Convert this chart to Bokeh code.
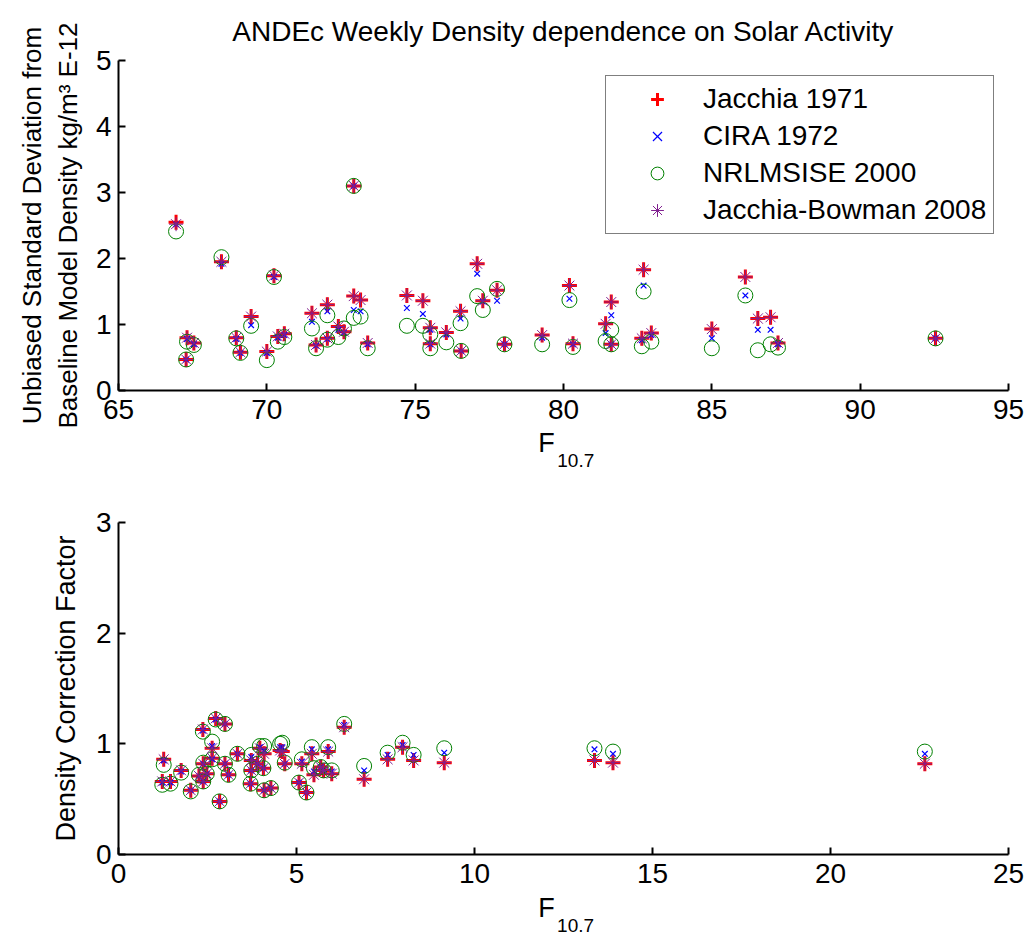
from bokeh.plotting import figure
from bokeh.layouts import column
from bokeh.models import Range1d, FixedTicker, Legend, LegendItem
from bokeh.core.properties import value
from bokeh.embed import file_html
from bokeh.resources import INLINE

FONT = "Liberation Sans"

# ---------------- top panel data (F10.7 vs std dev) ----------------
top_f107 = [66.94, 67.31, 67.28, 67.54, 68.47, 68.97, 69.11, 69.47, 70.00, 70.24,
            70.37, 70.59, 71.52, 71.66, 72.04, 72.04, 72.41, 72.60, 72.93, 72.93,
            73.16, 73.40, 74.72, 75.26, 75.51, 75.51, 76.05, 76.53, 76.55, 77.09,
            77.28, 77.76, 78.01, 79.28, 80.20, 80.32, 81.42, 81.61, 81.61, 82.70,
            82.64, 82.96, 85.00, 86.13, 86.55, 86.98, 87.23, 92.54]
top_j71 = [2.55, 0.80, 0.47, 0.72, 1.95, 0.80, 0.58, 1.12, 0.59, 1.74,
           0.82, 0.86, 1.17, 0.69, 1.30, 0.79, 0.97, 0.89, 3.10, 1.43,
           1.37, 0.72, 1.44, 1.36, 0.95, 0.71, 0.88, 1.20, 0.60, 1.92,
           1.36, 1.52, 0.70, 0.84, 1.59, 0.71, 1.01, 1.34, 0.70, 1.83,
           0.79, 0.87, 0.93, 1.72, 1.09, 1.11, 0.72, 0.79]
top_cira = [2.52, 0.78, 0.47, 0.70, 1.92, 0.78, 0.57, 0.99, 0.57, 1.72,
            0.80, 0.84, 1.04, 0.68, 1.20, 0.78, 0.92, 0.88, 3.10, 1.22,
            1.20, 0.70, 1.25, 1.16, 0.92, 0.70, 0.85, 1.09, 0.60, 1.77,
            1.35, 1.36, 0.70, 0.80, 1.39, 0.70, 0.87, 1.14, 0.70, 1.59,
            0.76, 0.84, 0.79, 1.44, 0.92, 0.92, 0.70, 0.79]
top_nrl = [2.41, 0.74, 0.47, 0.69, 2.02, 0.79, 0.57, 0.98, 0.46, 1.72,
           0.74, 0.81, 0.94, 0.64, 1.14, 0.77, 0.81, 0.94, 3.10, 1.10,
           1.12, 0.64, 0.98, 0.98, 0.85, 0.64, 0.73, 1.02, 0.60, 1.43,
           1.22, 1.54, 0.70, 0.70, 1.37, 0.66, 0.75, 0.92, 0.70, 1.50,
           0.67, 0.74, 0.64, 1.44, 0.61, 0.70, 0.65, 0.79]
top_jb08 = [2.52, 0.80, 0.47, 0.72, 1.95, 0.80, 0.58, 1.12, 0.59, 1.74,
            0.82, 0.86, 1.17, 0.69, 1.30, 0.79, 0.97, 0.89, 3.10, 1.43,
            1.37, 0.72, 1.44, 1.36, 0.95, 0.71, 0.88, 1.20, 0.60, 1.92,
            1.36, 1.52, 0.70, 0.84, 1.59, 0.71, 1.01, 1.34, 0.70, 1.83,
            0.79, 0.87, 0.93, 1.72, 1.09, 1.11, 0.72, 0.79]

# ---------------- bottom panel data (density correction factor) ----------------
bot_f107 = [1.27, 1.23, 1.46, 1.76, 2.03, 2.37, 2.73, 2.99, 2.63, 2.63,
            2.38, 2.26, 2.48, 2.38, 2.99, 3.09, 3.34, 2.84, 3.97, 4.09,
            4.54, 4.60, 3.73, 3.90, 3.73, 4.07, 3.71, 4.09, 4.28, 4.67,
            5.15, 5.43, 5.89, 5.49, 5.68, 5.76, 5.99, 5.07, 5.28, 6.34,
            6.90, 7.56, 7.98, 8.29, 9.15, 13.37, 13.89, 22.65]
bot_j71 = [0.86, 0.66, 0.66, 0.76, 0.58, 1.13, 1.23, 1.18, 0.96, 0.87,
           0.82, 0.71, 0.73, 0.66, 0.82, 0.72, 0.91, 0.48, 0.96, 0.91,
           0.94, 0.93, 0.85, 0.82, 0.76, 0.78, 0.64, 0.58, 0.60, 0.82,
           0.82, 0.91, 0.93, 0.72, 0.79, 0.76, 0.73, 0.65, 0.56, 1.15,
           0.68, 0.86, 0.97, 0.85, 0.83, 0.85, 0.83, 0.82]
bot_cira = [0.85, 0.65, 0.65, 0.75, 0.58, 1.12, 1.22, 1.18, 0.98, 0.86,
            0.82, 0.71, 0.73, 0.66, 0.82, 0.72, 0.91, 0.48, 0.97, 0.94,
            0.97, 0.97, 0.88, 0.82, 0.76, 0.78, 0.64, 0.58, 0.60, 0.82,
            0.84, 0.95, 0.95, 0.75, 0.79, 0.76, 0.75, 0.65, 0.56, 1.17,
            0.76, 0.90, 0.99, 0.90, 0.92, 0.95, 0.91, 0.91]
bot_nrl = [0.81, 0.63, 0.64, 0.74, 0.57, 1.11, 1.22, 1.18, 1.02, 0.86,
           0.83, 0.72, 0.73, 0.66, 0.82, 0.72, 0.91, 0.48, 0.98, 0.98,
           1.00, 1.01, 0.90, 0.82, 0.76, 0.78, 0.64, 0.58, 0.60, 0.83,
           0.86, 0.97, 0.97, 0.78, 0.79, 0.76, 0.76, 0.65, 0.56, 1.18,
           0.80, 0.92, 1.01, 0.90, 0.96, 0.96, 0.93, 0.93]
bot_jb08 = [0.86, 0.66, 0.66, 0.76, 0.58, 1.13, 1.23, 1.18, 0.96, 0.87,
            0.82, 0.71, 0.73, 0.66, 0.82, 0.72, 0.91, 0.48, 0.96, 0.91,
            0.94, 0.93, 0.85, 0.82, 0.76, 0.78, 0.64, 0.58, 0.60, 0.82,
            0.82, 0.91, 0.93, 0.72, 0.79, 0.76, 0.73, 0.65, 0.56, 1.15,
            0.68, 0.86, 0.97, 0.85, 0.83, 0.85, 0.83, 0.82]

series_names = ["Jacchia 1971", "CIRA 1972", "NRLMSISE 2000", "Jacchia-Bowman 2008"]
top_xticks = [65, 70, 75, 80, 85, 90, 95]
top_yticks = [0, 1, 2, 3, 4, 5]
bot_xticks = [0, 5, 10, 15, 20, 25]
bot_yticks = [0, 1, 2, 3]

RED, BLUE, GREEN, PURPLE = "#FF0000", "#0000FF", "#008000", "#80208F"
LEFT, RIGHT, FW = 118, 16, 890


def style_axes(p, xt, yt):
    p.xaxis.ticker = FixedTicker(ticks=xt)
    p.yaxis.ticker = FixedTicker(ticks=yt)
    for ax in (p.xaxis[0], p.yaxis[0]):
        ax.axis_line_width = 2
        ax.axis_line_color = "black"
        ax.major_tick_line_width = 2
        ax.major_tick_line_color = "black"
        ax.major_tick_in = 7
        ax.major_tick_out = 0
        ax.minor_tick_line_color = None
        ax.major_label_text_font = FONT
        ax.major_label_text_font_size = "28px"
        ax.major_label_text_color = "black"
        ax.axis_label_text_font = FONT
        ax.axis_label_text_font_size = "26px"
        ax.axis_label_text_font_style = "normal"
        ax.axis_label_text_color = "black"
    p.xaxis.major_label_standoff = 9
    p.yaxis.major_label_standoff = 7
    p.xgrid.grid_line_color = None
    p.ygrid.grid_line_color = None
    p.outline_line_color = None


def add_series(p, xs, ys_list):
    r1 = p.scatter(xs, ys_list[0], marker="cross", size=15, line_width=3, line_color=RED)
    r2 = p.scatter(xs, ys_list[1], marker="x", size=8, line_width=1.2, line_color=BLUE)
    r3 = p.scatter(xs, ys_list[2], marker="circle", size=15, line_width=1,
                   line_color=GREEN, fill_color=None)
    r4 = p.scatter(xs, ys_list[3], marker="asterisk", size=14, line_width=1, line_color=PURPLE)
    return [r1, r2, r3, r4]


def f107_label(x_range, height, xf, yf, xs, ys, overlap=0):
    """A thin transparent strip under a panel, sharing its x range, that carries the F10.7 label."""
    s = figure(frame_width=FW, frame_height=height, min_border=0,
               min_border_left=LEFT, min_border_right=RIGHT,
               x_range=x_range, y_range=Range1d(0, height),
               x_axis_type=None, y_axis_type=None,
               output_backend="svg", toolbar_location=None)
    s.outline_line_color = None
    s.xgrid.grid_line_color = None
    s.ygrid.grid_line_color = None
    s.background_fill_alpha = 0
    s.border_fill_alpha = 0
    if overlap:
        s.margin = (-overlap, 0, 0, 0)
    s.text(x=[xf], y=[yf], text=["F"], text_font=value(FONT), text_font_size="27px",
           text_baseline="alphabetic", text_color="black")
    s.text(x=[xs], y=[ys], text=["10.7"], text_font=value(FONT), text_font_size="19px",
           text_baseline="alphabetic", text_color="black")
    return s


# ---------------- top figure ----------------
p1 = figure(frame_width=FW, frame_height=330, min_border_left=LEFT, min_border_right=RIGHT,
            min_border_top=60, min_border_bottom=40,
            x_range=Range1d(65, 95), y_range=Range1d(0, 5),
            output_backend="svg", toolbar_location=None,
            title="ANDEc Weekly Density dependence on Solar Activity")
p1.title.text_font = FONT
p1.title.text_font_size = "28px"
p1.title.text_font_style = "normal"
p1.title.text_color = "black"
p1.title.align = "center"
p1.title.standoff = 27
style_axes(p1, top_xticks, top_yticks)
p1.yaxis.axis_label = "Unbiased Standard Deviation from\nBaseline Model Density kg/m\u00b3 E-12"
p1.yaxis.axis_label_standoff = 10
rs = add_series(p1, top_f107, [top_j71, top_cira, top_nrl, top_jb08])

legend = Legend(items=[LegendItem(label=n, renderers=[r]) for n, r in zip(series_names, rs)],
                location=(487, 156))
legend.label_text_font = FONT
legend.label_text_font_size = "28px"
legend.label_text_color = "black"
legend.label_height = 32
legend.glyph_height = 32
legend.glyph_width = 88
legend.label_standoff = 2
legend.spacing = 5
legend.padding = 7
legend.margin = 0
legend.border_line_color = "black"
legend.border_line_width = 1
legend.background_fill_alpha = 1
p1.add_layout(legend)

lab1 = f107_label(p1.x_range, 60, 79.15, 36, 79.79, 18, overlap=12)

# ---------------- bottom figure ----------------
p2 = figure(frame_width=FW, frame_height=332, min_border_left=LEFT, min_border_right=RIGHT,
            min_border_top=44, min_border_bottom=40,
            x_range=Range1d(0, 25), y_range=Range1d(0, 3),
            output_backend="svg", toolbar_location=None)
style_axes(p2, bot_xticks, bot_yticks)
p2.yaxis.axis_label = "Density Correction Factor"
p2.yaxis.axis_label_text_font_size = "27px"
p2.yaxis.axis_label_standoff = 12
add_series(p2, bot_f107, [bot_j71, bot_cira, bot_nrl, bot_jb08])

lab2 = f107_label(p2.x_range, 43, 11.79, 30, 12.32, 12)

layout = column(p1, lab1, p2, lab2, spacing=0)
open("out.html", "w").write(file_html(layout, INLINE))
